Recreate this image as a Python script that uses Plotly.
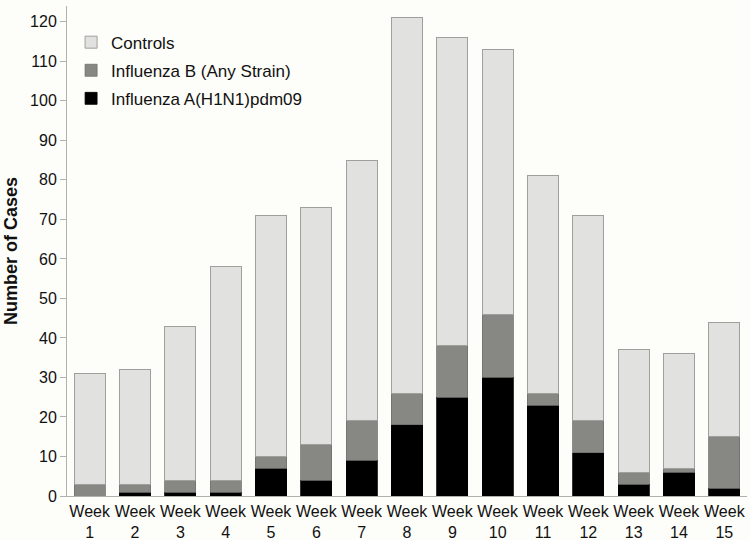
import plotly.graph_objects as go

weeks = ["Week<br>%d" % i for i in range(1, 16)]
h1n1 = [0, 1, 1, 1, 7, 4, 9, 18, 25, 30, 23, 11, 3, 6, 2]
flu_b = [3, 2, 3, 3, 3, 9, 10, 8, 13, 16, 3, 8, 3, 1, 13]
controls = [28, 29, 39, 54, 61, 60, 66, 95, 78, 67, 55, 52, 31, 29, 29]

fig = go.Figure()
fig.add_trace(go.Bar(x=weeks, y=h1n1, name="Influenza A(H1N1)pdm09", legendgroup="a", legendrank=3,
                     marker=dict(color="#000000", line=dict(color="#000000", width=0.8))))
fig.add_trace(go.Bar(x=weeks, y=flu_b, name="Influenza B (Any Strain)", legendgroup="b", legendrank=2,
                     marker=dict(color="#878884", line=dict(color="#6f706c", width=0.8))))
fig.add_trace(go.Bar(x=weeks, y=controls, name="Controls", legendgroup="c", legendrank=1,
                     marker=dict(color="#e1e2df", line=dict(color="#9fa09c", width=1))))

fig.update_layout(
    barmode="stack",
    bargap=0.31,
    width=750, height=540,
    margin=dict(l=67, r=3, t=6, b=44),
    paper_bgcolor="#fdfdf9",
    plot_bgcolor="#fdfdf9",
    font=dict(family="Liberation Sans, Arial, sans-serif", color="#111111"),
    legend=dict(x=0.006, y=0.962, xanchor="left", yanchor="top",
                traceorder="grouped", font=dict(size=17),
                bgcolor="rgba(0,0,0,0)", itemwidth=30, tracegroupgap=3),
    showlegend=True,
)
fig.update_xaxes(showline=True, linecolor="#b0b0ac", linewidth=1, automargin=False,
                 tickfont=dict(size=16), tickangle=0, ticks="", showgrid=False,
                 ticklabelstandoff=1)
fig.update_yaxes(range=[0, 124], tickvals=list(range(0, 121, 10)), automargin=False,
                 showline=True, linecolor="#b0b0ac", linewidth=1,
                 ticks="outside", ticklen=6, tickcolor="#b0b0ac",
                 tickfont=dict(size=16), showgrid=False, zeroline=False,
                 title=dict(text="<b>Number of Cases</b>", font=dict(size=18), standoff=7))

fig.write_html("out.html", config={"displayModeBar": False},
               post_script="document.body.style.margin='0';document.body.style.background='#fdfdf9';")
